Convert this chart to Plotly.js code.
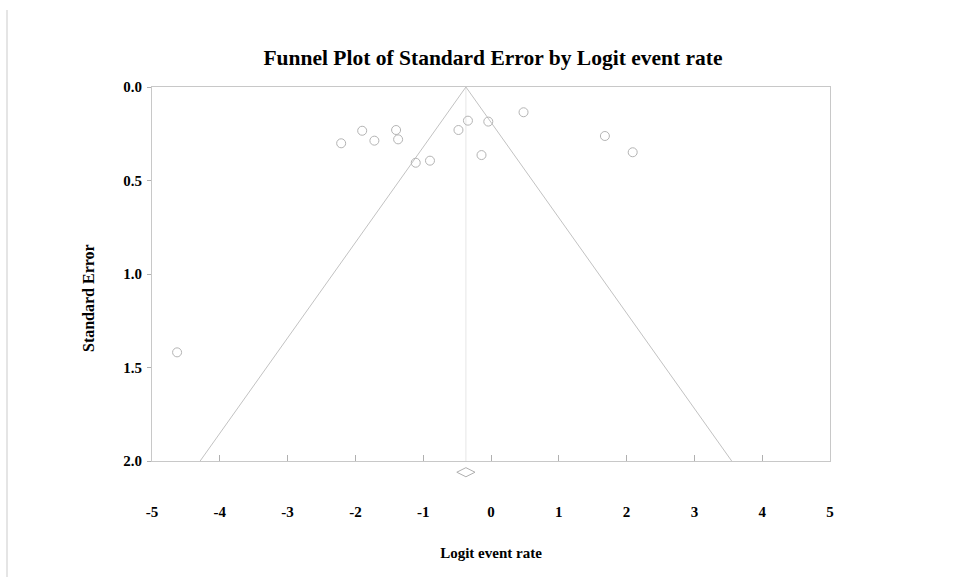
<!DOCTYPE html>
<html>
<head>
<meta charset="utf-8">
<script src="https://cdn.plot.ly/plotly-3.0.1.min.js"></script>
<style>
  html, body { margin: 0; padding: 0; background: #ffffff; }
  #chart { width: 961px; height: 577px; }
</style>
</head>
<body>
<div id="chart"></div>
<script>
// Study points: logit event rate vs standard error
const logitRate = [-4.63, -2.21, -1.90, -1.72, -1.40, -1.37, -1.11, -0.90, -0.48, -0.34, -0.04, 0.48, -0.14, 1.68, 2.09];
const stdError  = [1.419, 0.301, 0.234, 0.287, 0.230, 0.280, 0.405, 0.394, 0.230, 0.180, 0.185, 0.135, 0.364, 0.262, 0.349];

// Funnel (pseudo 95% limits) and summary estimate
const funnelX = [-4.29, -0.37, 3.55];
const funnelY = [2.0, 0.0, 2.0];
const centerX = [-0.37, -0.37];
const centerY = [0.0, 2.0];
const summaryX = [-0.37];
const summaryY = [2.06];

// Axis ticks
const xTicks = [-5, -4, -3, -2, -1, 0, 1, 2, 3, 4, 5];
const xTickLabels = ['-5', '-4', '-3', '-2', '-1', '0', '1', '2', '3', '4', '5'];
const yTicks = [0, 0.5, 1.0, 1.5, 2.0];
const yTickLabels = ['0.0', '0.5', '1.0', '1.5', '2.0'];

const serif = 'Liberation Serif, Times New Roman, serif';

// pixel helpers for the page layout (plot area spans 87..485 px vertically)
const TOP = 87, AXIS = 461, BOTTOM = 485, H = BOTTOM - TOP;
const L = 152, R = 830, W = R - L;
const py = p => (BOTTOM - p) / H;
const px = p => (p - L) / W;
const splitDomain = (BOTTOM - AXIS) / H;
const unitPx = (AXIS - TOP) / 2.0;

const traces = [
  {
    x: centerX, y: centerY, type: 'scatter', mode: 'lines',
    line: { color: '#e6e6e6', width: 1 }, hoverinfo: 'skip', showlegend: false
  },
  {
    x: funnelX, y: funnelY, type: 'scatter', mode: 'lines',
    line: { color: '#c2c2c2', width: 1 }, hoverinfo: 'skip', showlegend: false
  },
  {
    x: logitRate, y: stdError, type: 'scatter', mode: 'markers',
    marker: { symbol: 'circle-open', size: 9, color: '#b4b4b4', line: { width: 1, color: '#b4b4b4' } },
    showlegend: false
  },
  {
    x: summaryX, y: summaryY, xaxis: 'x', yaxis: 'y2', type: 'scatter', mode: 'markers',
    marker: { symbol: 'diamond-wide-open', size: 13, color: '#b0b0b0', line: { width: 1, color: '#b0b0b0' } },
    showlegend: false
  }
];

const layout = {
  width: 961, height: 577,
  paper_bgcolor: '#ffffff', plot_bgcolor: '#ffffff',
  margin: { l: L, r: 961 - R, t: TOP, b: 577 - BOTTOM, pad: 0 },
  showlegend: false,
  title: {
    text: 'Funnel Plot of Standard Error by Logit event rate',
    font: { family: serif, size: 21.5, color: '#000000', weight: 'bold' },
    x: 493 / 961, xref: 'container', xanchor: 'center',
    y: 1 - 57 / 577, yref: 'container', yanchor: 'middle'
  },
  xaxis: {
    range: [-5, 5], tickmode: 'array', tickvals: xTicks, ticktext: xTickLabels,
    anchor: 'y',
    ticks: 'inside', ticklen: 6, tickcolor: '#b0b0b0', tickwidth: 1,
    showline: true, linecolor: '#c8c8c8', linewidth: 1, mirror: true,
    showgrid: false, zeroline: false,
    ticklabelstandoff: 37,
    tickfont: { family: serif, size: 15, color: '#000000', weight: 'bold' },
    title: {
      text: 'Logit event rate', standoff: 28,
      font: { family: serif, size: 15, color: '#000000', weight: 'bold' }
    }
  },
  yaxis: {
    domain: [splitDomain, 1],
    range: [2.0, 0.0], tickmode: 'array', tickvals: yTicks, ticktext: yTickLabels,
    ticks: 'outside', ticklen: 4, tickcolor: '#b0b0b0', tickwidth: 1,
    showline: true, linecolor: '#c8c8c8', linewidth: 1, mirror: true,
    showgrid: false, zeroline: false,
    ticklabelstandoff: 2,
    tickfont: { family: serif, size: 15, color: '#000000', weight: 'bold' }
  },
  yaxis2: {
    domain: [0, splitDomain],
    range: [2.0 + (BOTTOM - AXIS) / unitPx, 2.0],
    anchor: 'x', visible: false, showgrid: false, zeroline: false, fixedrange: true
  },
  annotations: [
    {
      text: 'Standard Error', textangle: -90, showarrow: false,
      xref: 'paper', yref: 'paper',
      x: px(88), y: py(298),
      xanchor: 'center', yanchor: 'middle',
      font: { family: serif, size: 16, color: '#000000', weight: 'bold' }
    }
  ],
  shapes: [
    {
      type: 'line', xref: 'paper', yref: 'paper',
      x0: px(7), x1: px(7),
      y0: py(10), y1: py(577),
      line: { color: '#dcdcdc', width: 1.5 }
    }
  ]
};

Plotly.newPlot('chart', traces, layout, { displayModeBar: false });
</script>
</body>
</html>
